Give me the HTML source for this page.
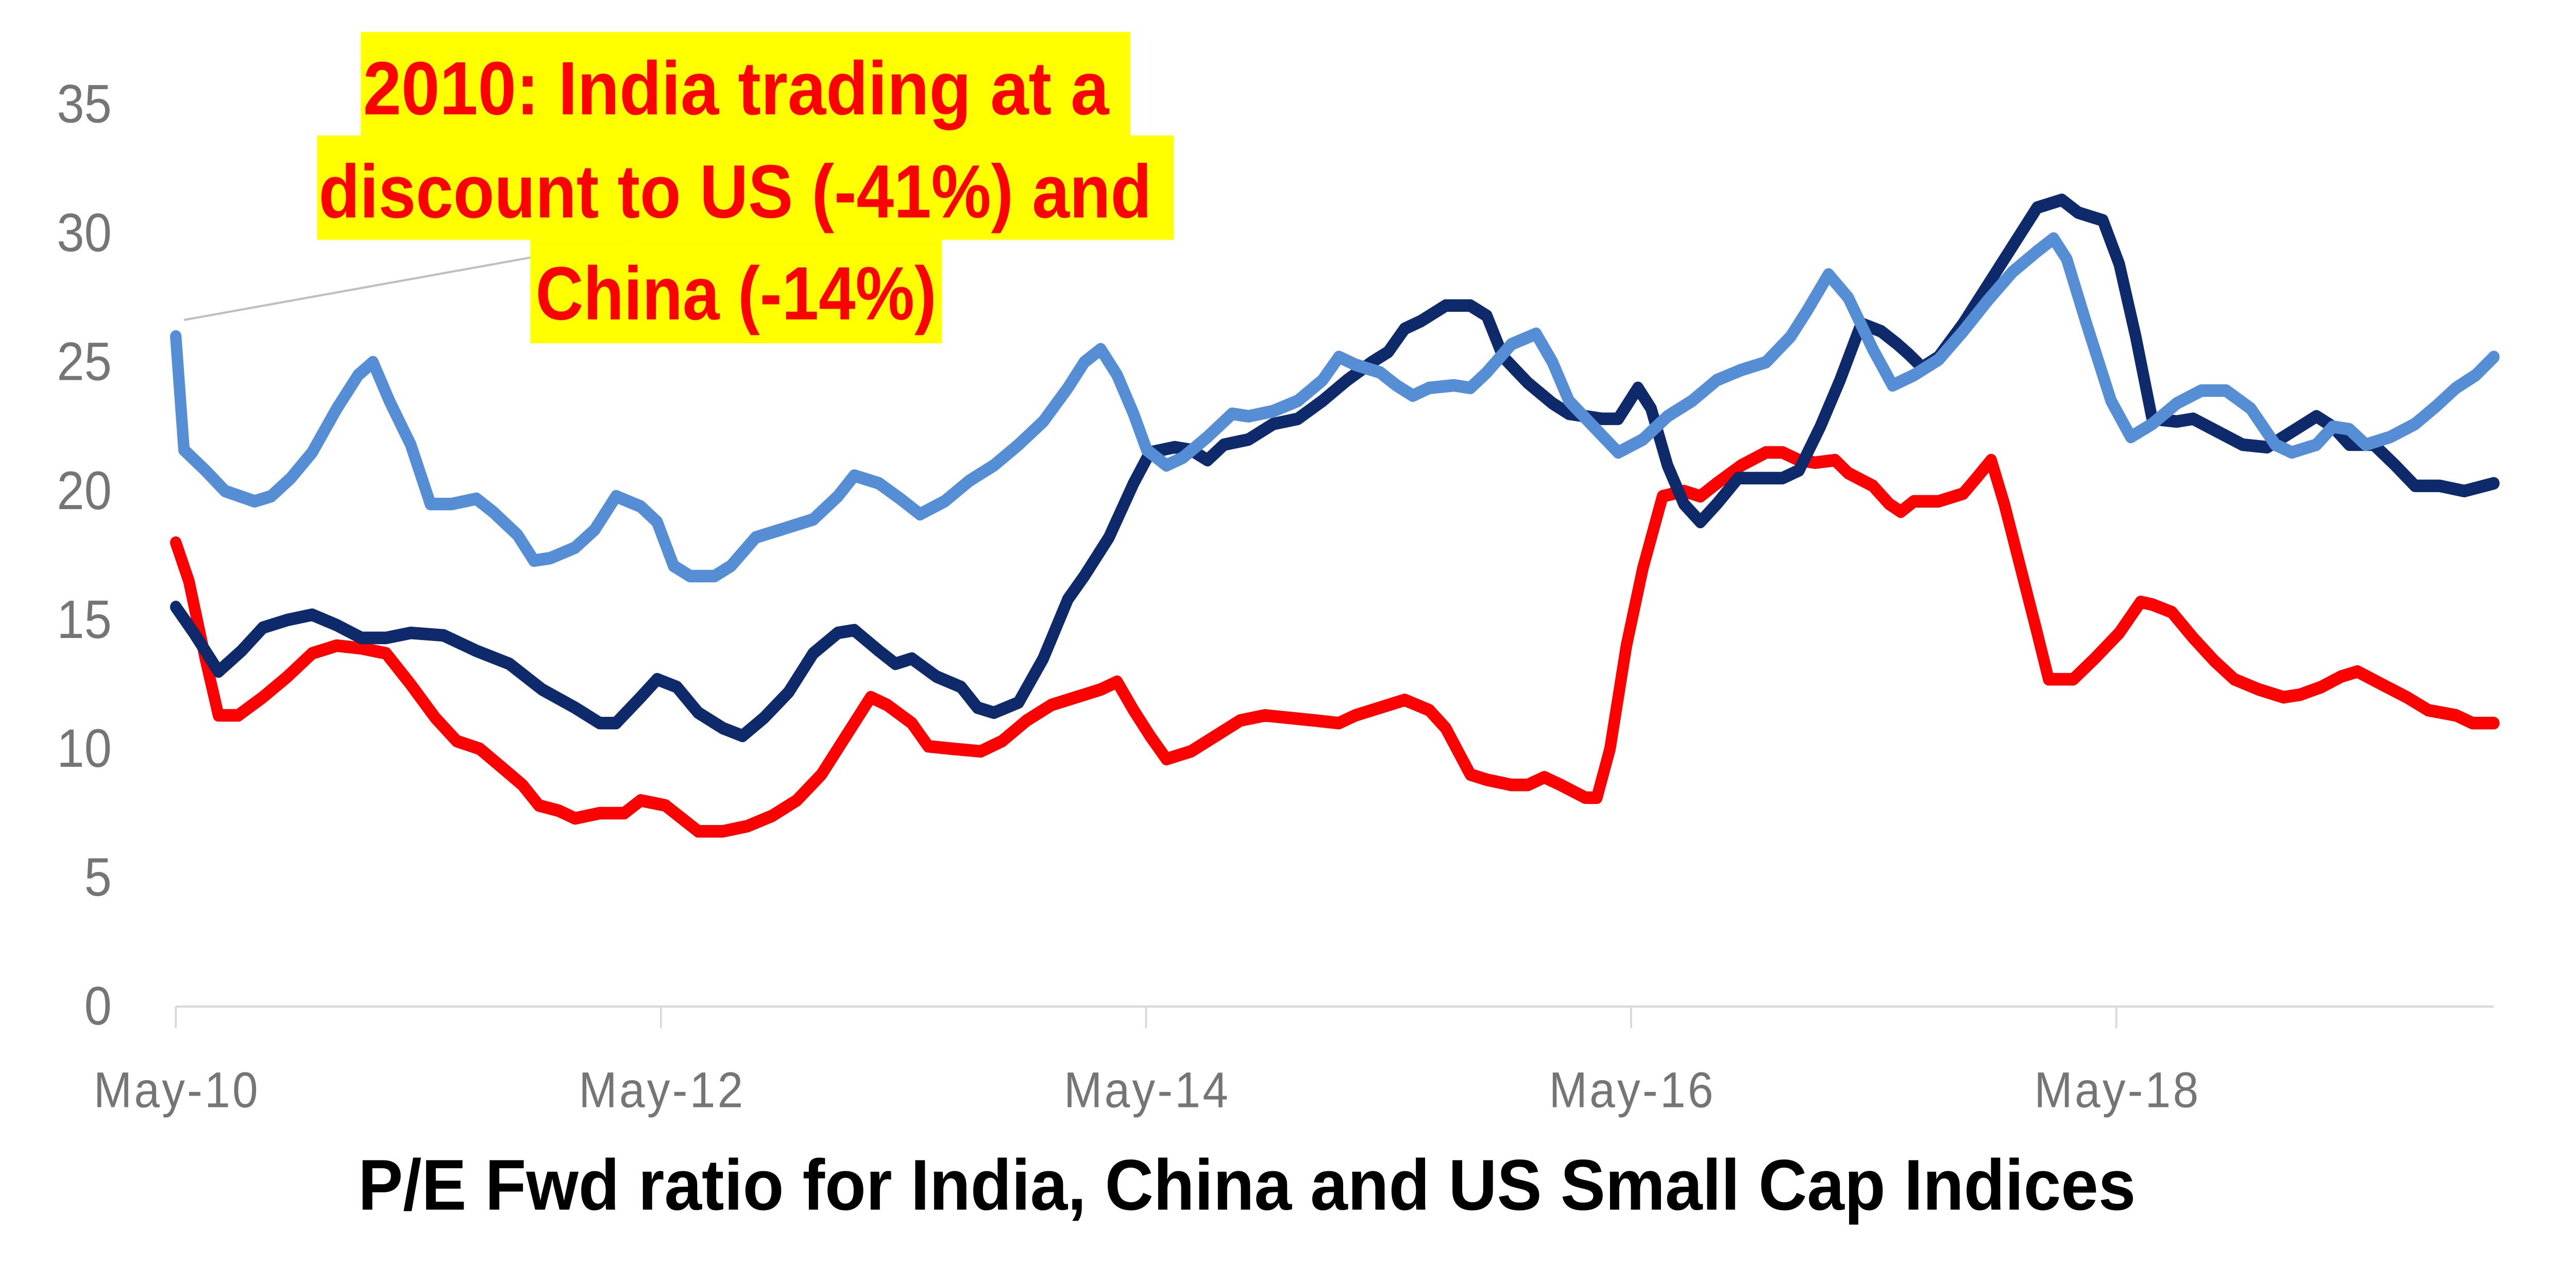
<!DOCTYPE html>
<html><head><meta charset="utf-8"><style>
html,body{margin:0;padding:0;background:#fff;width:100%;height:100%;overflow:hidden;}
svg{display:block;position:absolute;left:0;top:0;width:100vw;height:100vh}
</style></head><body>
<svg id="c" viewBox="0 0 1568 701.55" preserveAspectRatio="none" xmlns="http://www.w3.org/2000/svg">
<rect width="1568" height="701.55" fill="#fff"/>
<g font-family="'Liberation Sans', sans-serif" font-size="30" fill="#757575" text-anchor="end">
<text x="68" y="570">0</text>
<text x="68" y="498.3">5</text>
<text x="68" y="426.6">10</text>
<text x="68" y="354.9">15</text>
<text x="68" y="283.2">20</text>
<text x="68" y="211.5">25</text>
<text x="68" y="139.8">30</text>
<text x="68" y="68.1">35</text>
</g>
<line x1="107" y1="560" x2="1518" y2="560" stroke="#d9d9d9" stroke-width="1.2"/>
<g stroke="#d9d9d9" stroke-width="1.2">
<line x1="107" y1="560" x2="107" y2="572"/>
<line x1="402.3" y1="560" x2="402.3" y2="572"/>
<line x1="697.6" y1="560" x2="697.6" y2="572"/>
<line x1="992.9" y1="560" x2="992.9" y2="572"/>
<line x1="1288.2" y1="560" x2="1288.2" y2="572"/>
</g>
<g font-family="'Liberation Sans', sans-serif" font-size="28" fill="#757575" text-anchor="middle">
<text x="107" y="616" textLength="100">May-10</text>
<text x="402.3" y="616" textLength="100">May-12</text>
<text x="697.6" y="616" textLength="100">May-14</text>
<text x="992.9" y="616" textLength="100">May-16</text>
<text x="1288.2" y="616" textLength="100">May-18</text>
</g>
<g id="series" fill="none" stroke-width="7" stroke-linejoin="round" stroke-linecap="round"></g>
<line x1="112" y1="178" x2="403.6" y2="130" stroke="#bfbfbf" stroke-width="1.2"/>
<g fill="#ffff00">
<rect x="219.6" y="17.8" width="468.4" height="57.6"/>
<rect x="193" y="75.4" width="521.5" height="58"/>
<rect x="322.8" y="133.4" width="250.6" height="57.6"/>
</g>
<g font-family="'Liberation Sans', sans-serif" font-weight="bold" font-size="42" fill="#ff0000">
<text x="221" y="63.6" textLength="454" lengthAdjust="spacingAndGlyphs">2010: India trading at a</text>
<text x="194" y="121" textLength="507" lengthAdjust="spacingAndGlyphs">discount to US (-41%) and</text>
<text x="326" y="177.7" textLength="244" lengthAdjust="spacingAndGlyphs">China (-14%)</text>
</g>
<text x="218" y="673" font-family="'Liberation Sans', sans-serif" font-weight="bold" font-size="40" fill="#000" textLength="1082" lengthAdjust="spacingAndGlyphs">P/E Fwd ratio for India, China and US Small Cap Indices</text>
</svg>
<script>
var navy=[107,15.5,118,14.5,133,13,147,13.8,160,14.7,175,15,190,15.2,205,14.8,220,14.3,235,14.3,250,14.5,270,14.4,290,13.8,310,13.3,330,12.3,350,11.6,365,11,375,11,390,12,400,12.7,412,12.4,425,11.4,440,10.8,452,10.5,465,11.2,480,12.2,495,13.7,510,14.5,520,14.6,535,13.8,545,13.3,555,13.5,570,12.8,585,12.4,595,11.6,605,11.4,620,11.8,635,13.5,650,15.8,660,16.7,675,18.2,690,20.3,700,21.5,715,21.7,725,21.6,735,21.2,745,21.8,760,22,775,22.6,790,22.8,805,23.5,820,24.3,835,25,845,25.4,855,26.3,865,26.6,880,27.2,895,27.2,905,26.8,915,25.2,930,24.2,945,23.4,955,23,965,22.9,975,22.8,985,22.8,997,24,1005,23.2,1015,21,1025,19.5,1035,18.8,1045,19.5,1058,20.5,1070,20.5,1085,20.5,1095,20.8,1108,22.5,1120,24.3,1133,26.5,1145,26.2,1155,25.7,1162,25.3,1170,24.8,1180,25.2,1195,26.5,1210,28,1225,29.5,1240,31,1255,31.3,1265,30.8,1280,30.5,1290,28.8,1300,26,1310,22.8,1325,22.7,1335,22.8,1350,22.3,1365,21.8,1380,21.7,1395,22.3,1410,22.9,1420,22.5,1430,21.8,1445,21.8,1458,21,1470,20.2,1485,20.2,1500,20,1518,20.3];
var light=[107,26,112,21.6,125,20.8,137,20,155,19.6,165,19.8,177,20.5,190,21.5,205,23.2,218,24.5,227,25,237,23.5,250,21.8,262,19.5,275,19.5,290,19.7,300,19.2,315,18.3,325,17.3,335,17.4,350,17.8,362,18.5,375,19.8,390,19.4,400,18.8,410,17.1,420,16.7,435,16.7,445,17.1,460,18.2,480,18.6,495,18.9,510,19.8,520,20.6,535,20.3,548,19.7,560,19.1,575,19.6,590,20.4,605,21,620,21.8,635,22.7,650,24,660,25,670,25.5,680,24.5,690,23,698,21.6,710,21,720,21.3,735,22.1,750,23,760,22.9,775,23.1,790,23.5,805,24.3,815,25.2,825,24.9,840,24.6,850,24.1,860,23.7,870,24,885,24.1,895,24,905,24.6,920,25.7,935,26.1,945,25,955,23.5,970,22.5,985,21.5,1000,22,1015,22.9,1030,23.5,1045,24.3,1060,24.7,1075,25,1090,26,1100,27,1113,28.4,1125,27.5,1140,25.5,1152,24.1,1165,24.5,1180,25.1,1195,26.2,1210,27.4,1225,28.5,1240,29.3,1250,29.8,1258,29,1270,26.5,1285,23.5,1297,22.1,1310,22.6,1325,23.4,1340,23.9,1355,23.9,1370,23.2,1385,21.8,1395,21.5,1410,21.8,1420,22.5,1430,22.4,1440,21.8,1455,22.1,1470,22.6,1483,23.3,1495,24,1507,24.5,1518,25.2];
var red=[107,18,115,16.5,125,13.5,133,11.3,145,11.3,160,12,175,12.8,190,13.7,205,14,220,13.9,235,13.7,250,12.5,265,11.2,278,10.3,292,10,305,9.3,318,8.6,328,7.8,340,7.6,350,7.3,365,7.5,380,7.5,390,8,405,7.8,415,7.3,425,6.8,440,6.8,455,7,470,7.4,485,8,500,9,515,10.5,530,12,540,11.7,555,11,565,10.1,580,10,597,9.9,610,10.3,625,11.1,640,11.7,655,12,670,12.3,680,12.6,690,11.5,700,10.5,710,9.6,725,9.9,740,10.5,755,11.1,770,11.3,785,11.2,800,11.1,815,11,825,11.3,840,11.6,855,11.9,870,11.5,880,10.8,895,9,905,8.8,920,8.6,930,8.6,940,8.9,950,8.6,965,8.1,972,8.1,980,10,990,14,1000,17,1012,19.8,1025,20,1035,19.8,1045,20.3,1060,21,1075,21.5,1085,21.5,1095,21.2,1105,21.1,1117,21.2,1125,20.7,1140,20.2,1150,19.5,1157,19.2,1165,19.6,1180,19.6,1195,19.9,1203,20.5,1212,21.2,1220,19.5,1230,17,1240,14.5,1247,12.7,1262,12.7,1275,13.5,1290,14.5,1303,15.7,1310,15.6,1322,15.3,1335,14.3,1348,13.4,1360,12.7,1375,12.3,1390,12,1400,12.1,1413,12.4,1425,12.8,1435,13,1450,12.5,1465,12,1478,11.5,1495,11.3,1505,11,1518,11];
function path(a,col){var d="";for(var i=0;i<a.length;i+=2){d+=(i?"L":"M")+a[i]+","+(560-a[i+1]*14.34).toFixed(1);}
var p=document.createElementNS("http://www.w3.org/2000/svg","path");p.setAttribute("d",d);p.setAttribute("stroke",col);document.getElementById("series").appendChild(p);}
path(red,"#ff0000");path(navy,"#0e2a6b");path(light,"#558ed5");
</script>
</body></html>
